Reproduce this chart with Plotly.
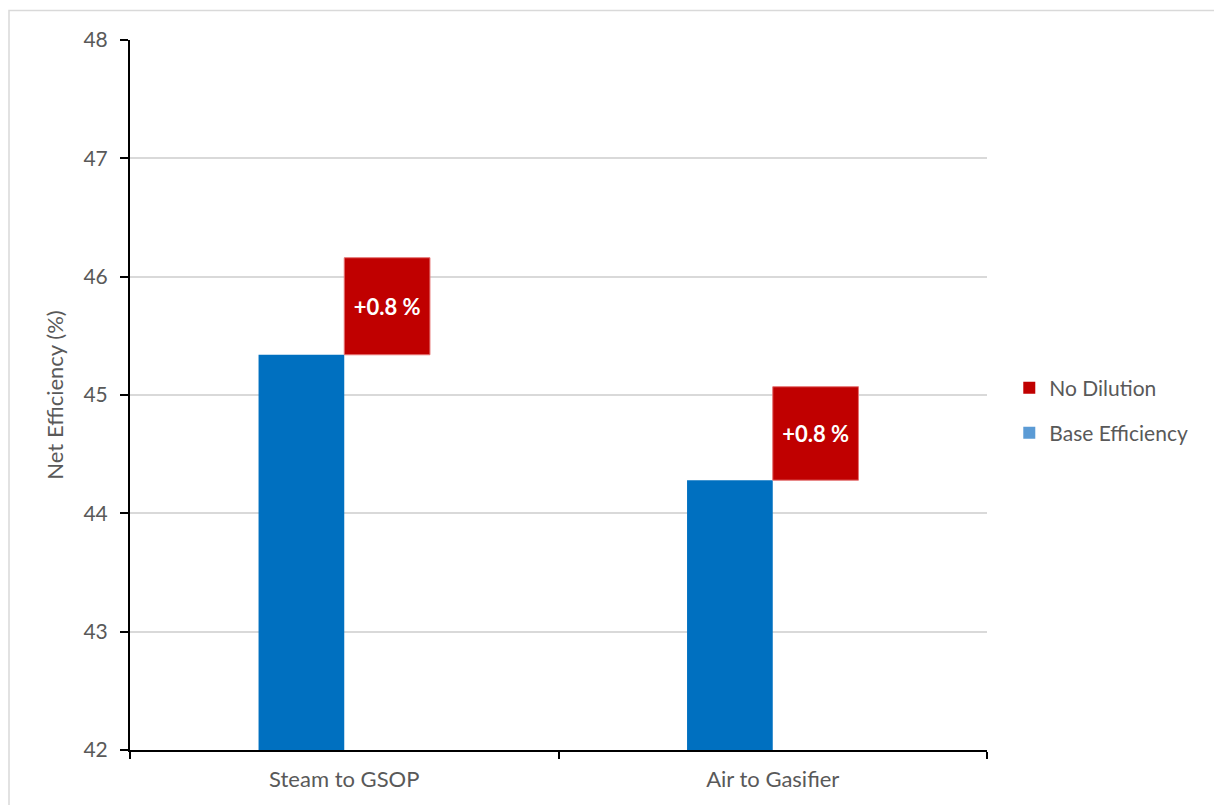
import plotly.graph_objects as go

categories = ["Steam to GSOP", "Air to Gasifier"]
base_efficiency = [45.34, 44.28]
no_dilution_gain = [0.82, 0.79]
gain_labels = ["<b>+0.8 %</b>", "<b>+0.8 %</b>"]
y_ticks = [42, 43, 44, 45, 46, 47, 48]

FONT = "Lato, Open Sans, sans-serif"
GRAY = "#595959"

fig = go.Figure()
fig.add_trace(go.Bar(
    x=categories, y=base_efficiency, base=0,
    offset=-0.2, width=0.2,
    marker=dict(color="#0070C0", line=dict(width=0)),
    showlegend=False, hoverinfo="skip"))
fig.add_trace(go.Bar(
    x=categories, y=no_dilution_gain, base=base_efficiency,
    offset=0.0, width=0.2,
    marker=dict(color="#C00000", line=dict(color="#E57373", width=1)),
    text=gain_labels, textposition="inside", insidetextanchor="middle",
    textfont=dict(color="white", size=22, family=FONT),
    textangle=0, showlegend=False, hoverinfo="skip"))
# legend entries
fig.add_trace(go.Scatter(x=[None], y=[None], mode="markers", name="No Dilution",
                         marker=dict(color="#C00000", symbol="square", size=14),
                         legend="legend"))
fig.add_trace(go.Scatter(x=[None], y=[None], mode="markers", name="Base Efficiency",
                         marker=dict(color="#5B9BD5", symbol="square", size=14),
                         legend="legend2"))

leg_font = dict(size=21, color=GRAY, family=FONT)
fig.update_layout(
    width=1214, height=805,
    margin=dict(l=130, r=227, t=40, b=55),
    paper_bgcolor="white", plot_bgcolor="white",
    barmode="overlay",
    font=dict(family=FONT, color=GRAY, size=20),
    legend=dict(x=1.026, y=(750 - 388) / 710, xanchor="left", yanchor="middle",
                font=leg_font, itemsizing="constant", itemwidth=30),
    legend2=dict(x=1.026, y=(750 - 433) / 710, xanchor="left", yanchor="middle",
                 font=leg_font, itemsizing="constant", itemwidth=30),
    shapes=[dict(type="rect", xref="paper", yref="paper",
                 x0=(9 - 130) / 857, x1=(1230 - 130) / 857,
                 y0=(750 - 820) / 710, y1=(750 - 10.5) / 710,
                 line=dict(color="#D9D9D9", width=1.5), layer="below")],
)
fig.update_xaxes(
    type="category", tickson="boundaries", ticks="outside", ticklen=7,
    tickcolor="black", tickwidth=2,
    showline=True, linecolor="black", linewidth=2,
    showgrid=False, range=[-0.5, 1.5], ticklabelstandoff=9,
    tickfont=dict(size=22, color=GRAY, family=FONT))
fig.update_yaxes(
    range=[42, 48], tickvals=y_ticks, ticks="outside", ticklen=8,
    tickcolor="black", tickwidth=2,
    showline=True, linecolor="black", linewidth=2,
    showgrid=True, gridcolor="#D9D9D9", gridwidth=1.5,
    zeroline=False, ticklabelstandoff=8,
    tickfont=dict(size=21, color=GRAY, family=FONT),
    title=dict(text="Net Efficiency (%)", standoff=14,
               font=dict(size=22, color=GRAY, family=FONT)))

fig.write_html("out.html")
